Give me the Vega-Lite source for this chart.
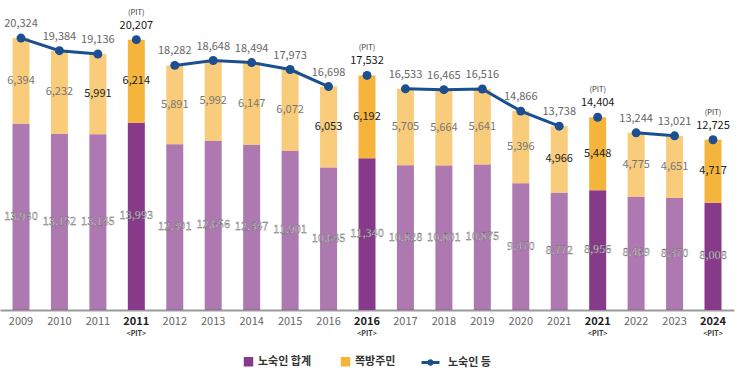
{
  "$schema": "https://vega.github.io/schema/vega-lite/v6.json",
  "width": 734,
  "height": 310,
  "autosize": "none",
  "padding": {"left": 0, "top": 0, "right": 9, "bottom": 81},
  "background": "white",
  "config": {"view": {"stroke": null}, "font": "Noto Sans CJK KR"},
  "data": {"values": [
    {"cat": "2009", "pit": false, "seg": "a", "homeless": 13930, "jjok": 6394, "total": 20324},
    {"cat": "2010", "pit": false, "seg": "a", "homeless": 13152, "jjok": 6232, "total": 19384},
    {"cat": "2011", "pit": false, "seg": "a", "homeless": 13145, "jjok": 5991, "total": 19136},
    {"cat": "2011 PIT", "pit": true, "seg": "p1", "homeless": 13993, "jjok": 6214, "total": 20207},
    {"cat": "2012", "pit": false, "seg": "b", "homeless": 12391, "jjok": 5891, "total": 18282},
    {"cat": "2013", "pit": false, "seg": "b", "homeless": 12656, "jjok": 5992, "total": 18648},
    {"cat": "2014", "pit": false, "seg": "b", "homeless": 12347, "jjok": 6147, "total": 18494},
    {"cat": "2015", "pit": false, "seg": "b", "homeless": 11901, "jjok": 6072, "total": 17973},
    {"cat": "2016", "pit": false, "seg": "b", "homeless": 10645, "jjok": 6053, "total": 16698},
    {"cat": "2016 PIT", "pit": true, "seg": "p2", "homeless": 11340, "jjok": 6192, "total": 17532},
    {"cat": "2017", "pit": false, "seg": "c", "homeless": 10828, "jjok": 5705, "total": 16533},
    {"cat": "2018", "pit": false, "seg": "c", "homeless": 10801, "jjok": 5664, "total": 16465},
    {"cat": "2019", "pit": false, "seg": "c", "homeless": 10875, "jjok": 5641, "total": 16516},
    {"cat": "2020", "pit": false, "seg": "c", "homeless": 9470, "jjok": 5396, "total": 14866},
    {"cat": "2021", "pit": false, "seg": "c", "homeless": 8772, "jjok": 4966, "total": 13738},
    {"cat": "2021 PIT", "pit": true, "seg": "p3", "homeless": 8956, "jjok": 5448, "total": 14404},
    {"cat": "2022", "pit": false, "seg": "d", "homeless": 8469, "jjok": 4775, "total": 13244},
    {"cat": "2023", "pit": false, "seg": "d", "homeless": 8370, "jjok": 4651, "total": 13021},
    {"cat": "2024 PIT", "pit": true, "seg": "p4", "homeless": 8008, "jjok": 4717, "total": 12725}
  ]},
  "encoding": {
    "x": {
      "field": "cat", "type": "nominal", "sort": null,
      "scale": {"paddingInner": 0.558, "paddingOuter": 0.325},
      "axis": {
        "title": null, "labelAngle": 0, "ticks": false,
        "domainColor": "#9a9a9a", "domainWidth": 2,
        "labelPadding": 5, "labelFontSize": 11,
        "labelExpr": "replace(datum.value, ' PIT', '')",
        "labelFontWeight": {"condition": {"test": "indexof(datum.value, 'PIT') >= 0", "value": "bold"}, "value": "normal"},
        "labelColor": {"condition": {"test": "indexof(datum.value, 'PIT') >= 0", "value": "#222222"}, "value": "#666666"}
      }
    }
  },
  "layer": [
    {
      "transform": [{"fold": ["homeless", "jjok"], "as": ["key", "value"]}],
      "mark": {"type": "bar"},
      "encoding": {
        "y": {"field": "value", "type": "quantitative", "stack": "zero", "scale": {"domain": [0, 23170], "nice": false}, "axis": null},
        "color": {
          "field": "key", "type": "nominal",
          "scale": {"domain": ["homeless", "jjok"], "range": ["#873a8a", "#f5b43c"]},
          "legend": {
            "orient": "none", "legendX": 243, "legendY": 356, "direction": "horizontal", "title": null,
            "labelExpr": "datum.value == 'homeless' ? '노숙인 합계' : '쪽방주민'",
            "labelFontSize": 11, "labelFontWeight": "bold", "labelColor": "#333333",
            "symbolType": "square", "symbolSize": 90, "columnPadding": 28, "symbolStrokeWidth": 0,
            "symbolOpacity": 1
          }
        },
        "order": {"field": "key", "sort": "ascending"},
        "opacity": {"condition": {"test": "datum.pit", "value": 1}, "value": 0.68}
      }
    },
    {
      "transform": [{"filter": "!datum.pit"}],
      "mark": {"type": "line", "strokeWidth": 3},
      "encoding": {
        "y": {"field": "total", "type": "quantitative", "scale": {"domain": [0, 23170], "nice": false}},
        "detail": {"field": "seg"},
        "stroke": {
          "datum": "노숙인 등",
          "scale": {"range": ["#1b4f8f"]},
          "legend": {
            "orient": "none", "legendX": 424, "legendY": 356, "title": null,
            "labelFontSize": 11, "labelFontWeight": "bold", "labelColor": "#333333",
            "symbolType": "M-1.8,0H1.8M0.35,0A0.35,0.35 0 1,1 -0.35,0A0.35,0.35 0 1,1 0.35,0",
            "symbolSize": 100, "symbolStrokeWidth": 3, "labelOffset": 11
          }
        }
      }
    },
    {
      "mark": {"type": "circle", "size": 80, "opacity": 1, "color": "#1b4f8f"},
      "encoding": {
        "y": {"field": "total", "type": "quantitative", "scale": {"domain": [0, 23170], "nice": false}}
      }
    },
    {
      "mark": {"type": "text", "dy": -14, "fontSize": 11},
      "encoding": {
        "y": {"field": "total", "type": "quantitative", "scale": {"domain": [0, 23170], "nice": false}},
        "text": {"field": "total", "type": "quantitative", "format": ",d"},
        "color": {"condition": {"test": "datum.pit", "value": "#1a1a1a"}, "value": "#666666"},
        "fontWeight": {"condition": {"test": "datum.pit", "value": "bold"}, "value": "normal"}
      }
    },
    {
      "transform": [{"filter": "datum.pit"}],
      "mark": {"type": "text", "dy": -27, "fontSize": 7.5, "color": "#333333"},
      "encoding": {
        "y": {"field": "total", "type": "quantitative", "scale": {"domain": [0, 23170], "nice": false}},
        "text": {"value": "(PIT)"}
      }
    },
    {
      "transform": [{"calculate": "datum.homeless + datum.jjok / 2", "as": "ymid"}],
      "mark": {"type": "text", "fontSize": 11},
      "encoding": {
        "y": {"field": "ymid", "type": "quantitative", "scale": {"domain": [0, 23170], "nice": false}},
        "text": {"field": "jjok", "type": "quantitative", "format": ",d"},
        "color": {"condition": {"test": "datum.pit || datum.cat == '2011' || datum.cat == '2016' || datum.cat == '2021'", "value": "#222222"}, "value": "#777777"},
        "fontWeight": {"condition": {"test": "datum.pit || datum.cat == '2011' || datum.cat == '2016' || datum.cat == '2021'", "value": "bold"}, "value": "normal"}
      }
    },
    {
      "transform": [{"calculate": "datum.homeless / 2", "as": "hmid"}],
      "mark": {"type": "text", "fontSize": 11, "stroke": "#555555", "strokeWidth": 0.3, "color": "#e4e4e4"},
      "encoding": {
        "y": {"field": "hmid", "type": "quantitative", "scale": {"domain": [0, 23170], "nice": false}},
        "text": {"field": "homeless", "type": "quantitative", "format": ",d"}
      }
    },
    {
      "transform": [{"filter": "datum.pit"}],
      "mark": {"type": "text", "dy": 24, "fontSize": 7, "fontWeight": "bold", "color": "#333333"},
      "encoding": {
        "y": {"datum": 0, "type": "quantitative", "scale": {"domain": [0, 23170], "nice": false}},
        "text": {"value": "<PIT>"}
      }
    }
  ]
}
